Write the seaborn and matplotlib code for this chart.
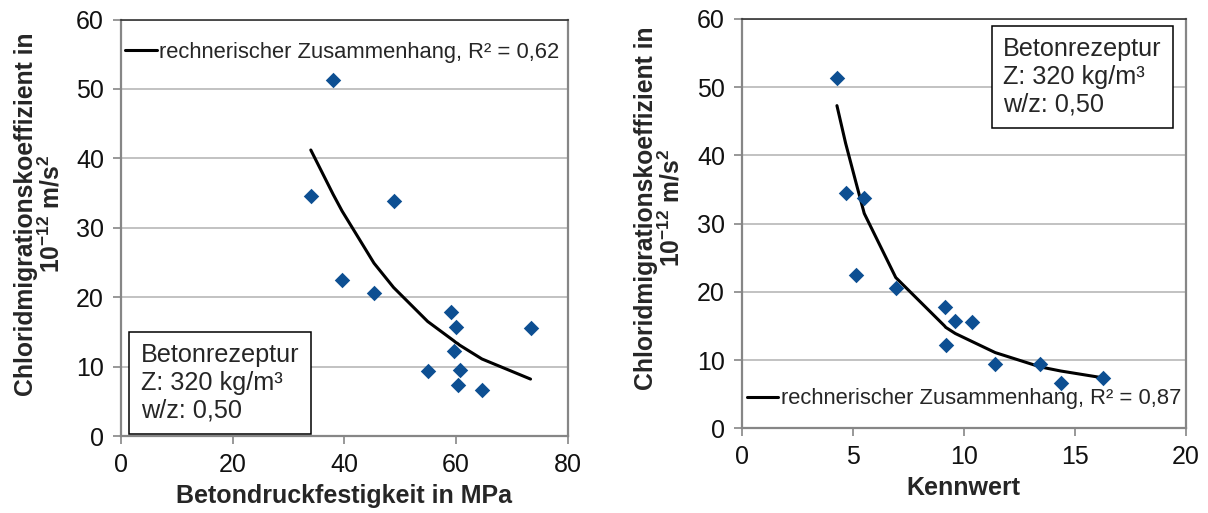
import matplotlib
matplotlib.use("Agg")
import matplotlib.pyplot as plt
import seaborn as sns
import pandas as pd

# ---- data ----
# left: compressive strength vs. chloride migration coefficient
festigkeit = [38.0, 34.0, 48.8, 39.6, 45.3, 59.1, 59.9, 73.3, 59.6, 54.9, 60.6, 60.3, 64.6]
dcl_links = [51.3, 34.6, 33.8, 22.5, 20.6, 17.8, 15.7, 15.6, 12.3, 9.4, 9.5, 7.4, 6.6]
fit_links_x = [34.0, 38.0, 39.6, 45.3, 48.8, 54.9, 59.1, 59.6, 59.9, 60.3, 60.6, 64.6, 73.3]
fit_links_y = [41.2, 34.8, 32.4, 24.9, 21.4, 16.5, 14.0, 13.7, 13.5, 13.3, 13.1, 11.1, 8.2]

# right: Kennwert vs. chloride migration coefficient
kennwert = [4.29, 4.68, 5.52, 5.15, 6.94, 9.14, 9.62, 10.39, 9.19, 11.42, 13.45, 14.37, 16.27]
dcl_rechts = [51.4, 34.5, 33.8, 22.5, 20.5, 17.8, 15.7, 15.6, 12.2, 9.4, 9.4, 6.6, 7.4]
fit_rechts_x = [4.29, 4.68, 5.15, 5.52, 6.94, 9.14, 9.19, 9.62, 10.39, 11.42, 13.45, 14.37, 16.27]
fit_rechts_y = [47.3, 41.8, 36.0, 31.5, 22.1, 15.0, 14.8, 13.9, 12.7, 11.1, 9.0, 8.4, 7.4]

label_links = "rechnerischer Zusammenhang, R² = 0,62"
label_rechts = "rechnerischer Zusammenhang, R² = 0,87"
rezeptur = "Betonrezeptur\nZ: 320 kg/m³\nw/z: 0,50"
xlabel_links = "Betondruckfestigkeit in MPa"
xlabel_rechts = "Kennwert"
ylabel = "Chloridmigrationskoeffizient in\n10$^{\\mathbf{-12}}$ m/s$^{\\mathbf{2}}$"
yticks = [0, 10, 20, 30, 40, 50, 60]
xticks_links = [0, 20, 40, 60, 80]
xticks_rechts = [0, 5, 10, 15, 20]

# ---- style ----
sns.set_style("white")
plt.rcParams["font.family"] = ["Liberation Sans", "DejaVu Sans"]
plt.rcParams["mathtext.fontset"] = "custom"
plt.rcParams["mathtext.rm"] = "Liberation Sans"
plt.rcParams["mathtext.bf"] = "Liberation Sans:bold"

MARKER_C = "#0d4f92"
GRID_C = "#bdbdbd"
SPINE_C = "#868686"

fig = plt.figure(figsize=(12.08, 5.13), dpi=100)
ax1 = fig.add_axes([120.7 / 1208, 1 - 436 / 513, 447.3 / 1208, 416.5 / 513])
ax2 = fig.add_axes([741.7 / 1208, 1 - 428.3 / 513, 444 / 1208, 409.3 / 513])


def style_axes(ax, xticks, xmax):
    ax.set_xlim(0, xmax)
    ax.set_ylim(0, 60)
    ax.set_xticks(xticks)
    ax.set_yticks(yticks)
    ax.yaxis.grid(True, color=GRID_C, linewidth=1.3)
    ax.xaxis.grid(False)
    ax.set_axisbelow(True)
    for side in ["left", "bottom", "right"]:
        ax.spines[side].set_color(SPINE_C)
        ax.spines[side].set_linewidth(1.6)
    ax.spines["top"].set_color("#333333")
    ax.spines["top"].set_linewidth(1.2)
    ax.tick_params(axis="both", direction="out", length=6, width=1.2,
                   color=SPINE_C, labelsize=18, labelcolor="#111111", pad=6,
                   left=True, bottom=True)


# left panel
df_l = pd.DataFrame({"x": festigkeit, "y": dcl_links})
df_lf = pd.DataFrame({"x": fit_links_x, "y": fit_links_y})
sns.lineplot(data=df_lf, x="x", y="y", ax=ax1, color="black", linewidth=2.2,
             label=label_links, estimator=None, sort=False)
sns.scatterplot(data=df_l, x="x", y="y", ax=ax1, marker="D", s=62,
                color=MARKER_C, edgecolor=MARKER_C, linewidth=0, legend=False, zorder=3)
style_axes(ax1, xticks_links, 80)
ax1.set_xlabel(xlabel_links, fontsize=18, fontweight="bold", labelpad=5)
ax1.set_ylabel("")
ax1.legend(loc="center left", bbox_to_anchor=(0.0096, 0.921), frameon=False,
           fontsize=15.8, handlelength=1.45, handletextpad=0.12, borderpad=0,
           borderaxespad=0)
ax1.text(0.0447, 0.2226, rezeptur, transform=ax1.transAxes, fontsize=18.2,
         va="top", ha="left", linespacing=1.2,
         bbox=dict(boxstyle="square,pad=0.45", facecolor="white",
                   edgecolor="black", linewidth=1.1))

# right panel
df_r = pd.DataFrame({"x": kennwert, "y": dcl_rechts})
df_rf = pd.DataFrame({"x": fit_rechts_x, "y": fit_rechts_y})
sns.lineplot(data=df_rf, x="x", y="y", ax=ax2, color="black", linewidth=2.2,
             label=label_rechts, estimator=None, sort=False)
sns.scatterplot(data=df_r, x="x", y="y", ax=ax2, marker="D", s=62,
                color=MARKER_C, edgecolor=MARKER_C, linewidth=0, legend=False, zorder=3)
style_axes(ax2, xticks_rechts, 20)
ax2.set_xlabel(xlabel_rechts, fontsize=18, fontweight="bold", labelpad=5)
ax2.set_ylabel("")
ax2.legend(loc="center left", bbox_to_anchor=(0.011, 0.0716), frameon=False,
           fontsize=15.8, handlelength=1.45, handletextpad=0.12, borderpad=0,
           borderaxespad=0)
ax2.text(0.589, 0.956, rezeptur, transform=ax2.transAxes, fontsize=18.2,
         va="top", ha="left", linespacing=1.2,
         bbox=dict(boxstyle="square,pad=0.45", facecolor="white",
                   edgecolor="black", linewidth=1.1))

# y labels (two lines, bold, centered)
fig.text(39 / 1208, 1 - 214 / 513, ylabel, rotation=90, ha="center", va="center",
         multialignment="center", fontsize=17.8, fontweight="bold", linespacing=1.0)
fig.text(659 / 1208, 1 - 208 / 513, ylabel, rotation=90, ha="center", va="center",
         multialignment="center", fontsize=17.8, fontweight="bold", linespacing=1.0)

fig.savefig("out.png", dpi=100)
